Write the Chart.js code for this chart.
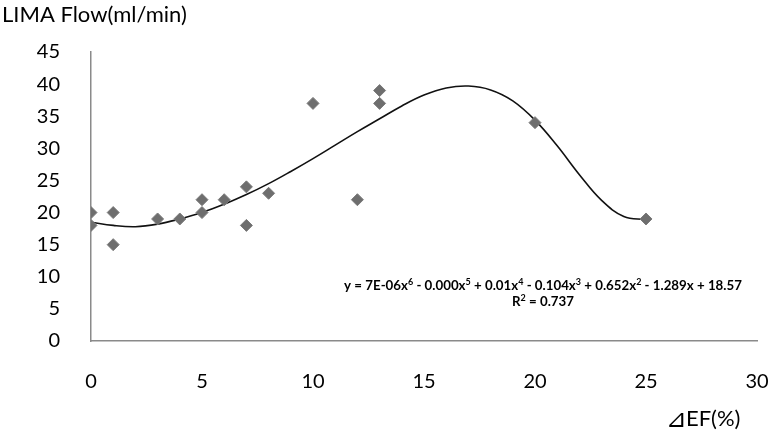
<!DOCTYPE html>
<html>
<head>
<meta charset="utf-8">
<script src="https://cdn.jsdelivr.net/npm/chart.js@4/dist/chart.umd.min.js"></script>
<style>
  html, body { margin: 0; padding: 0; background: #fff; }
</style>
</head>
<body>
<canvas id="myChart" width="772" height="434"></canvas>
<script>
// measured points
const efX   = [0, 0, 1, 1, 3, 4, 5, 5, 6, 7, 7, 8, 10, 12, 13, 13, 20, 25];
const flowY = [20, 18, 20, 15, 19, 19, 22, 20, 22, 24, 18, 23, 37, 22, 39, 37, 34, 19];

// polynomial trend line
const trendX = [0, 1, 2, 3, 4, 5, 6, 7, 8, 9, 10, 11, 12, 13, 14, 15, 16, 17, 18, 19, 20, 21, 22, 23, 24, 25];
const trendY = [18.5, 18.0, 17.8, 18.2, 19.0, 20.0, 21.3, 22.8, 24.5, 26.4, 28.4, 30.5, 32.6, 34.6, 36.6, 38.3, 39.4, 39.7, 39.1, 37.4, 34.4, 30.4, 25.9, 21.9, 19.4, 18.9];

const xTicks = [0, 5, 10, 15, 20, 25, 30];
const yTicks = [0, 5, 10, 15, 20, 25, 30, 35, 40, 45];

const yTitle = 'LIMA Flow(ml/min)';
const xTitleMark = '\u22BF';
const xTitle = 'EF(%)';
const equation = 'y = 7E-06x^6 - 0.000x^5 + 0.01x^4 - 0.104x^3 + 0.652x^2 - 1.289x + 18.57';
const rSquared = 'R^2 = 0.737';

const FONT = 'Lato, "Liberation Sans", sans-serif';

function drawSup(ctx, str, cx, y) {
  const parts = str.split(/\^(\d)/);
  const norm = 'bold 13.3px ' + FONT;
  const sup = 'bold 9px ' + FONT;
  let w = 0;
  parts.forEach(function (p, i) {
    ctx.font = (i % 2) ? sup : norm;
    w += ctx.measureText(p).width;
  });
  let x = cx - w / 2;
  parts.forEach(function (p, i) {
    if (i % 2) {
      ctx.font = sup;
      ctx.fillText(p, x, y - 5);
    } else {
      ctx.font = norm;
      ctx.fillText(p, x, y);
    }
    x += ctx.measureText(p).width;
  });
}

const textPlugin = {
  id: 'texts',
  afterDraw(chart) {
    const ctx = chart.ctx;
    ctx.save();
    ctx.fillStyle = '#000';
    ctx.textAlign = 'left';
    ctx.textBaseline = 'alphabetic';
    ctx.font = '22px ' + FONT;
    ctx.fillText(yTitle, 2, 22);
    // x axis title, the triangle is drawn bigger like in the original
    ctx.font = '25px "DejaVu Sans"';
    ctx.fillText(xTitleMark, 666, 427);
    let w = ctx.measureText(xTitleMark).width;
    ctx.font = '22px ' + FONT;
    ctx.fillText(xTitle, 666 + w - 1, 426);
    drawSup(ctx, equation, 543, 290);
    drawSup(ctx, rSquared, 543, 306);
    ctx.restore();
  }
};

const points = efX.map(function (x, i) { return { x: x, y: flowY[i] }; });
const trend = trendX.map(function (x, i) { return { x: x, y: trendY[i] }; });

const config = {
  type: 'scatter',
  data: {
    datasets: [{
      label: 'LIMA Flow',
      data: points,
      pointStyle: 'rectRot',
      pointRadius: 6,
      pointBackgroundColor: '#6e6e6e',
      pointBorderColor: '#7a7a7a',
      pointBorderWidth: 1
    }, {
      label: 'Poly. trend',
      data: trend,
      showLine: true,
      borderColor: '#111',
      borderWidth: 1.6,
      pointRadius: 0,
      tension: 0.4
    }]
  },
  options: {
    responsive: false,
    animation: false,
    layout: { padding: { top: 52, right: 15, left: 0, bottom: 0 } },
    plugins: { legend: { display: false }, tooltip: { enabled: false } },
    scales: {
      x: {
        type: 'linear',
        min: 0, max: 30,
        afterBuildTicks: function (s) { s.ticks = xTicks.map(function (v) { return { value: v }; }); },
        afterFit: function (s) { s.height = 93; s.paddingRight = 0; s.paddingLeft = 0; },
        grid: { display: false },
        border: { color: '#8a8a8a', width: 1.5 },
        ticks: { color: '#000', font: { family: FONT, size: 20 }, padding: 21, maxRotation: 0 }
      },
      y: {
        type: 'linear',
        min: 0, max: 45,
        afterBuildTicks: function (s) { s.ticks = yTicks.map(function (v) { return { value: v }; }); },
        afterFit: function (s) { s.width = 91; s.paddingTop = 0; s.paddingBottom = 0; },
        grid: { display: false },
        border: { color: '#8a8a8a', width: 1.5 },
        ticks: { color: '#000', font: { family: FONT, size: 20 }, padding: 23 }
      }
    }
  },
  plugins: [textPlugin]
};

const myChart = new Chart(document.getElementById('myChart'), config);
</script>
</body>
</html>
